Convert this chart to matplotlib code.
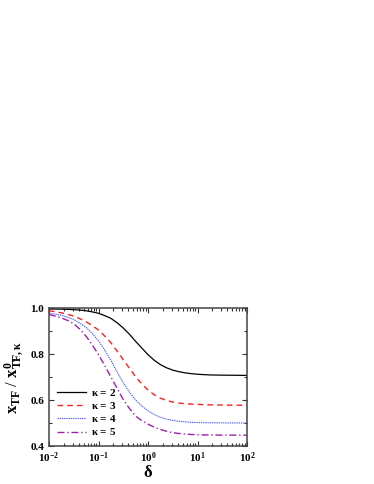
import matplotlib
matplotlib.use("Agg")
import matplotlib.pyplot as plt
import numpy as np
from matplotlib.ticker import LogLocator, MultipleLocator, NullFormatter, FuncFormatter

plt.rcParams['font.family'] = ['Liberation Serif', 'DejaVu Serif']
plt.rcParams['font.weight'] = 'bold'
plt.rcParams['mathtext.fontset'] = 'custom'
plt.rcParams['mathtext.rm'] = 'Liberation Serif:bold'
plt.rcParams['mathtext.bf'] = 'Liberation Serif:bold'
plt.rcParams['mathtext.it'] = 'Liberation Serif:bold'
plt.rcParams['mathtext.default'] = 'bf'

# data (log10 of delta, eighth-decade grid)
log_delta = [-2.0, -1.875, -1.75, -1.625, -1.5, -1.375, -1.25, -1.125,
             -1.0, -0.875, -0.75, -0.625, -0.5, -0.375, -0.25, -0.125,
             0.0, 0.125, 0.25, 0.375, 0.5, 0.625, 0.75, 0.875,
             1.0, 1.125, 1.25, 1.375, 1.5, 1.625, 1.75, 1.875, 2.0]
kappa2 = [0.996, 0.9955, 0.995, 0.994, 0.993, 0.991, 0.988, 0.983,
          0.977, 0.967, 0.955, 0.936, 0.913, 0.886, 0.855, 0.826,
          0.797, 0.773, 0.754, 0.740, 0.730, 0.723, 0.718, 0.7145,
          0.712, 0.7103, 0.709, 0.7085, 0.708, 0.7078, 0.7075, 0.7072, 0.707]
kappa3 = [0.988, 0.984, 0.979, 0.9725, 0.965, 0.9535, 0.940, 0.9235,
          0.904, 0.878, 0.849, 0.813, 0.775, 0.738, 0.701, 0.670,
          0.643, 0.623, 0.608, 0.598, 0.591, 0.587, 0.584, 0.5822,
          0.581, 0.5798, 0.579, 0.5784, 0.578, 0.5777, 0.5775, 0.5772, 0.577]
kappa4 = [0.978, 0.9735, 0.968, 0.960, 0.950, 0.934, 0.915, 0.889,
          0.857, 0.817, 0.772, 0.722, 0.675, 0.634, 0.600, 0.574,
          0.553, 0.537, 0.525, 0.517, 0.511, 0.5077, 0.505, 0.503,
          0.502, 0.5014, 0.501, 0.5007, 0.5005, 0.5003, 0.5002, 0.5001, 0.500]
kappa5 = [0.972, 0.965, 0.957, 0.946, 0.932, 0.907, 0.877, 0.839,
          0.797, 0.750, 0.700, 0.651, 0.602, 0.563, 0.530, 0.510,
          0.495, 0.482, 0.472, 0.464, 0.458, 0.4545, 0.452, 0.450,
          0.449, 0.4484, 0.448, 0.4477, 0.4475, 0.4473, 0.4472, 0.4471, 0.447]
labels = [r'$\kappa$ = 2', r'$\kappa$ = 3', r'$\kappa$ = 4', r'$\kappa$ = 5']

delta = 10.0 ** np.array(log_delta)

fig = plt.figure(figsize=(3.74, 4.84), dpi=100)
ax = fig.add_axes([49/374, 1-446/484, (247-49)/374, (446-308)/484])

ax.plot(delta, kappa2, color='black', lw=0.9, ls='-', label=labels[0])
ax.plot(delta, kappa3, color='#ff2020', lw=1.0, ls=(0, (4, 3)), label=labels[1])
ax.plot(delta, kappa4, color='#4a5cff', lw=0.8, ls=(0, (1.2, 0.8)), label=labels[2])
ax.plot(delta, kappa5, color='#a020b0', lw=1.0, ls=(0, (5, 2, 1, 2)), label=labels[3])

ax.set_xscale('log')
ax.set_xlim(1e-2, 1e2)
ax.set_ylim(0.4, 1.0)
ax.yaxis.set_major_locator(MultipleLocator(0.2))
ax.yaxis.set_minor_locator(MultipleLocator(0.1))
ax.yaxis.set_major_formatter(FuncFormatter(lambda v, p: f'{v:.1f}'))
ax.xaxis.set_major_locator(LogLocator(base=10, numticks=10))
ax.xaxis.set_minor_locator(LogLocator(base=10, subs=np.arange(2, 10), numticks=20))
ax.xaxis.set_minor_formatter(NullFormatter())
ax.xaxis.set_major_formatter(FuncFormatter(lambda v, p: r'$\mathbf{10^{%d}}$' % int(round(np.log10(v)))))
ax.tick_params(which='both', direction='in', top=True, right=True, labelsize=8, width=0.8, color='#333333')
ax.tick_params(which='major', length=3.5)
ax.tick_params(which='minor', length=2)
ax.tick_params(axis='x', pad=3)
ax.tick_params(axis='y', pad=3.5)
for lab in ax.get_yticklabels() + ax.get_xticklabels():
    lab.set_fontweight('bold')
for s in ax.spines.values():
    s.set_linewidth(1.1)
    s.set_color('#444444')

ax.set_xlabel(r'$\delta$', fontsize=12, labelpad=0)
ax.set_ylabel(r'$\mathbf{x}_{\mathrm{TF}}$ / $\mathbf{x}^{\mathbf{0}}_{\mathrm{TF},\kappa}$', fontsize=12, labelpad=3)

leg = ax.legend(loc='lower left', frameon=False, fontsize=8, handlelength=2.6,
                borderaxespad=0.0, labelspacing=0.2, handletextpad=0.5,
                bbox_to_anchor=(0.018, 0.03))

fig.savefig('out.png', dpi=100)
